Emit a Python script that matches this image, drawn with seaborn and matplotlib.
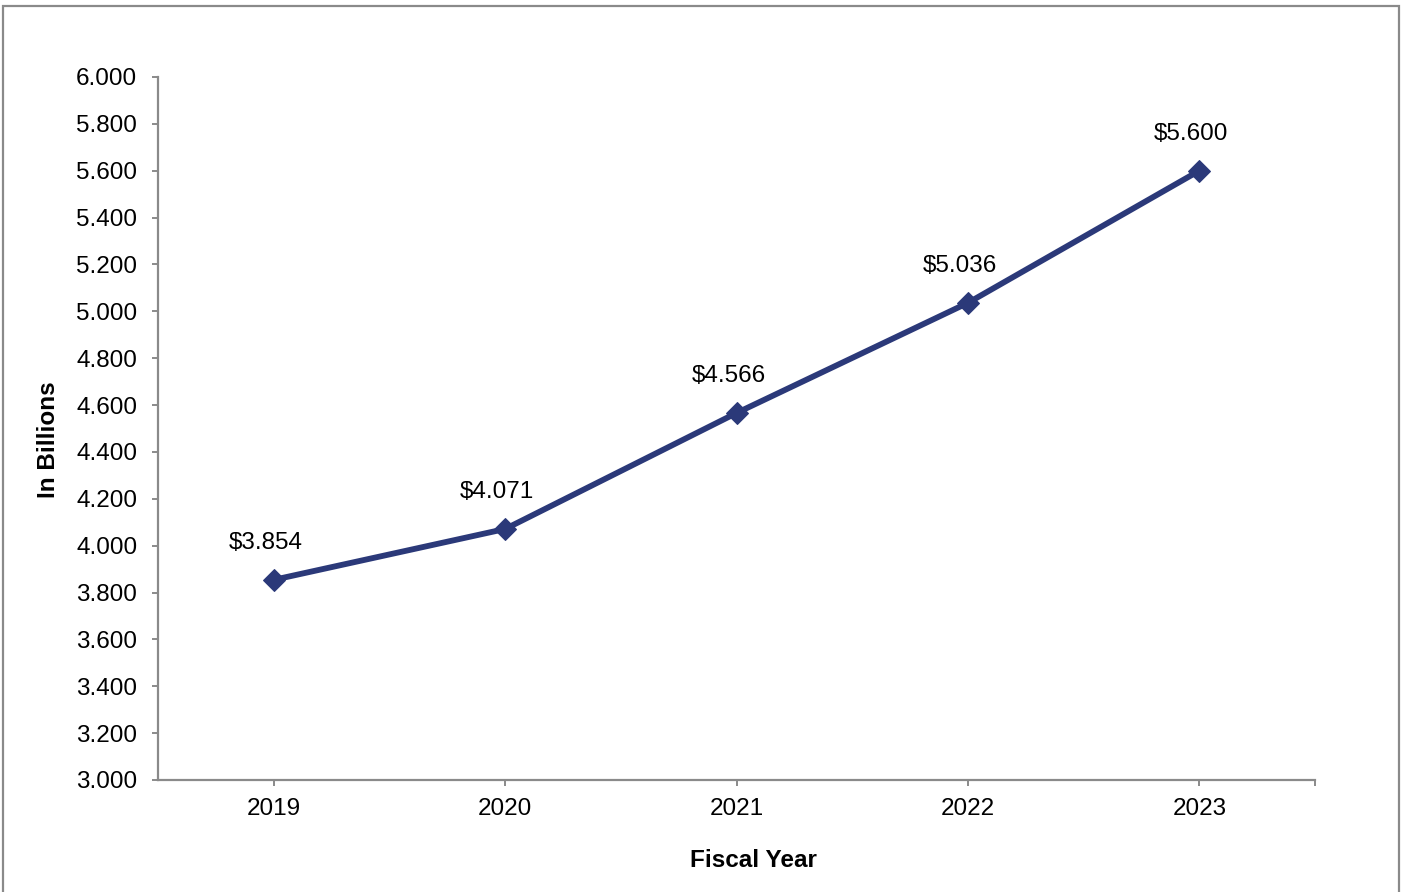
import numpy as np
import pandas as pd
import matplotlib
matplotlib.use("Agg")
import matplotlib.pyplot as plt
from matplotlib.patches import Rectangle
import seaborn as sns

years = ["2019", "2020", "2021", "2022", "2023"]
values = [3.854, 4.071, 4.566, 5.036, 5.600]
value_labels = ["$3.854", "$4.071", "$4.566", "$5.036", "$5.600"]
y_ticks = [3.0, 3.2, 3.4, 3.6, 3.8, 4.0, 4.2, 4.4, 4.6, 4.8, 5.0, 5.2, 5.4, 5.6, 5.8, 6.0]

sns.set_style("white")
plt.rcParams['font.family'] = ['Liberation Sans', 'DejaVu Sans']
plt.rcParams['text.color'] = 'black'
plt.rcParams['axes.labelcolor'] = 'black'
plt.rcParams['xtick.labelcolor'] = 'black'
plt.rcParams['ytick.labelcolor'] = 'black'

LINE_COLOR = "#2b3979"
AXIS_COLOR = "#8a8a8a"
FS = 17.5

df = pd.DataFrame({"year": years, "value": values})

fig = plt.figure(figsize=(14.03, 8.92), dpi=100)
ax = fig.add_axes([0.1126, 0.1256, 0.8247, 0.7881])

sns.lineplot(data=df, x="year", y="value", ax=ax, color=LINE_COLOR,
             linewidth=4.2, marker="D", markersize=11,
             markeredgecolor=LINE_COLOR, markerfacecolor=LINE_COLOR)

for i, (v, lab) in enumerate(zip(values, value_labels)):
    ax.annotate(lab, (i, v), xytext=(-8, 37), textcoords="offset pixels",
                ha="center", va="center", fontsize=FS, color="black")

ax.set_xlim(-0.5, 4.5)
ax.set_ylim(3.0, 6.0)
ax.set_yticks(y_ticks)
ax.set_yticklabels([f"{t:.3f}" for t in y_ticks])
ax.set_xticks(list(range(len(years))) + [4.5])
ax.set_xticklabels(years + [""])

for side in ["top", "right"]:
    ax.spines[side].set_visible(False)
for side in ["left", "bottom"]:
    ax.spines[side].set_color(AXIS_COLOR)
    ax.spines[side].set_linewidth(1.6)

ax.tick_params(axis="y", direction="out", length=4, width=1.4, color=AXIS_COLOR,
               labelsize=FS, pad=11, left=True)
ax.tick_params(axis="x", direction="out", length=4, width=1.4, color=AXIS_COLOR,
               labelsize=FS, pad=9, bottom=True)

ax.set_xlabel("Fiscal Year", fontsize=FS, fontweight="bold")
ax.set_ylabel("In Billions", fontsize=FS, fontweight="bold")
ax.xaxis.set_label_coords(0.515, -0.0985)
ax.yaxis.set_label_coords(-0.0846, 0.484)

fig.add_artist(Rectangle((3 / 1403, -0.01), 1396 / 1403, 1 - 6 / 892 + 0.01,
                         transform=fig.transFigure, fill=False,
                         edgecolor=AXIS_COLOR, linewidth=1.6))

fig.savefig("out.png", dpi=100, facecolor="white")
